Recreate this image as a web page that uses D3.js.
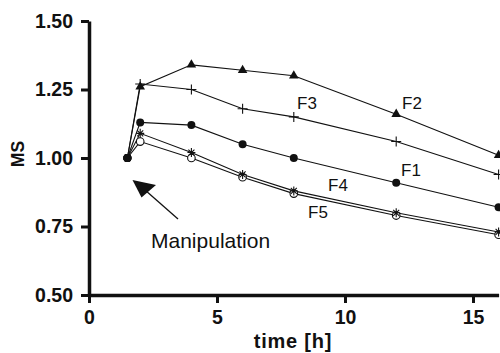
<!DOCTYPE html>
<html><head><meta charset="utf-8">
<script src="https://cdn.jsdelivr.net/npm/d3@7"></script>
<style>body{margin:0;background:#fff}svg{display:block}</style>
</head><body>
<script>
const times = [1.5, 2, 4, 6, 8, 12, 16];
const F1 = [1.00, 1.13, 1.12, 1.05, 1.00, 0.91, 0.82];
const F2 = [1.00, 1.26, 1.34, 1.32, 1.30, 1.16, 1.01];
const F3 = [1.00, 1.27, 1.25, 1.18, 1.15, 1.06, 0.94];
const F4 = [1.00, 1.09, 1.02, 0.94, 0.88, 0.80, 0.73];
const F5 = [1.00, 1.06, 1.00, 0.93, 0.87, 0.79, 0.72];
const xTicks = [0, 5, 10, 15];
const yTicks = [0.50, 0.75, 1.00, 1.25, 1.50];

const W = 500, H = 353;
const svg = d3.select("body").append("svg").attr("width", W).attr("height", H);
const x = d3.scaleLinear().domain([0, 16]).range([89, 498.6]);
const y = d3.scaleLinear().domain([0.5, 1.5]).range([295, 21]);

const font = "Arial, 'Liberation Sans', sans-serif";

const series = [
  {name:"F5", v:F5, sym:"ocircle"},
  {name:"F4", v:F4, sym:"star"},
  {name:"F1", v:F1, sym:"circle"},
  {name:"F3", v:F3, sym:"plus"},
  {name:"F2", v:F2, sym:"triangle"}
];
const line = d3.line().x((d,i)=>x(times[i])).y(d=>y(d));
series.forEach(s=>{
  svg.append("path").attr("d", line(s.v)).attr("fill","none").attr("stroke","#111").attr("stroke-width",1.1);
});
series.forEach(s=>{
  const g = svg.append("g");
  s.v.forEach((d,i)=>{
    const cx = x(times[i]), cy = y(d);
    if (i===0) { g.append("circle").attr("cx",cx).attr("cy",cy).attr("r",4).attr("fill","#111"); return; }
    if (s.sym==="circle") g.append("circle").attr("cx",cx).attr("cy",cy).attr("r",4).attr("fill","#111");
    else if (s.sym==="ocircle") g.append("circle").attr("cx",cx).attr("cy",cy).attr("r",3.8).attr("fill","#fff").attr("stroke","#111").attr("stroke-width",1.1);
    else if (s.sym==="triangle") g.append("path").attr("transform",`translate(${cx},${cy})`).attr("d",d3.symbol(d3.symbolTriangle,40)()).attr("fill","#111");
    else if (s.sym==="plus") g.append("path").attr("transform",`translate(${cx},${cy})`).attr("d","M-5,0H5M0,-5V5").attr("stroke","#111").attr("stroke-width",1.1);
    else if (s.sym==="star") g.append("path").attr("transform",`translate(${cx},${cy})`).attr("d","M-4,0H4M0,-4.5V4.5M-3,-3L3,3M-3,3L3,-3").attr("stroke","#111").attr("stroke-width",1.1);
  });
});

const xAxis = svg.append("g").attr("transform","translate(0,295)")
  .call(d3.axisBottom(x).tickValues(xTicks).tickFormat(d3.format("d")).tickSize(8).tickSizeOuter(0));
const yAxis = svg.append("g").attr("transform","translate(89,0)")
  .call(d3.axisLeft(y).tickValues(yTicks).tickFormat(d3.format(".2f")).tickSize(8).tickSizeOuter(0));
[xAxis,yAxis].forEach(a=>{
  a.select(".domain").attr("stroke","#111").attr("stroke-width",3.5);
  a.selectAll(".tick line").attr("stroke","#111").attr("stroke-width",3);
  a.selectAll("text").attr("fill","#111").style("font-family",font).style("font-size","19.5px").style("font-weight","bold");
});
xAxis.selectAll("text").attr("y",29).attr("dy","0");
yAxis.selectAll("text").attr("x",-16).attr("dy","0.32em");

svg.append("text").attr("x",293).attr("y",348).attr("text-anchor","middle")
  .style("font-family",font).style("font-size","20px").style("font-weight","bold").style("letter-spacing","0.8px").attr("fill","#111").text("time [h]");
svg.append("text").attr("transform","translate(24,154) rotate(-90)").attr("text-anchor","middle")
  .style("font-family",font).style("font-size","17.5px").style("font-weight","bold").attr("fill","#111").text("MS");

const labels = [["F3",297,109],["F2",402,109],["F1",401,176],["F4",328,191],["F5",308,218]];
labels.forEach(l=>svg.append("text").attr("x",l[1]).attr("y",l[2]).style("font-family",font).style("font-size","17px").attr("fill","#111").text(l[0]));
svg.append("text").attr("x",151).attr("y",248).style("font-family",font).style("font-size","21px").attr("fill","#111").text("Manipulation");

svg.append("line").attr("x1",178).attr("y1",219).attr("x2",145).attr("y2",190).attr("stroke","#111").attr("stroke-width",1.3);
svg.append("path").attr("d","M132.5,180 L156,185 L141.5,197.5 Z").attr("fill","#111");
</script>
</body></html>
